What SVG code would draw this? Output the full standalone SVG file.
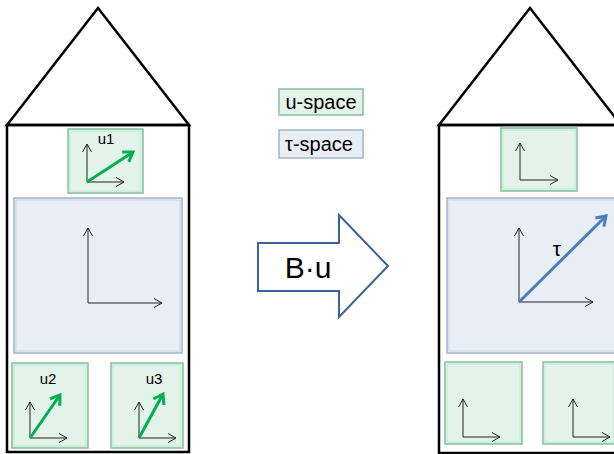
<svg xmlns="http://www.w3.org/2000/svg" width="614" height="454" viewBox="0 0 614 454">
<style>
.house{fill:none;stroke:#000;stroke-width:2.5;stroke-linejoin:miter}
.ubox{fill:#e4f3ea;stroke:#82c09b;stroke-width:1.5}
.ubev{fill:none;stroke:#b8ecd0;stroke-width:1}
.tbox{fill:#e9eef6;stroke:#a3b4ca;stroke-width:1.5}
.tbev{fill:none;stroke:#c9d6e6;stroke-width:1}
.axis{fill:none;stroke:#222;stroke-width:1;marker-end:url(#ax)}
.gv{fill:none;stroke:#00b050;stroke-width:3;marker-end:url(#gm)}
.bv{fill:none;stroke:#4a7ebb;stroke-width:3;marker-end:url(#bm)}
.lbl{font-family:"Liberation Sans",Arial,sans-serif;fill:#000}
</style>
<defs>
<marker id="ax" markerUnits="userSpaceOnUse" markerWidth="12" markerHeight="12" refX="10" refY="6" orient="auto" overflow="visible">
<path d="M2,1.5 L10,6 L2,10.5" fill="none" stroke="#222" stroke-width="1"/>
</marker>
<marker id="gm" markerUnits="userSpaceOnUse" markerWidth="14" markerHeight="14" refX="11" refY="7" orient="auto" overflow="visible">
<path d="M2,1 L11,7 L2,13" fill="none" stroke="#00b050" stroke-width="3"/>
</marker>
<marker id="bm" markerUnits="userSpaceOnUse" markerWidth="14" markerHeight="14" refX="11" refY="7" orient="auto" overflow="visible">
<path d="M2,1 L11,7 L2,13" fill="none" stroke="#4a7ebb" stroke-width="3"/>
</marker>
</defs>

<g id="left-house">
<polygon class="house" points="7,125 98,8 189,125"/>
<rect class="house" x="7" y="125" width="182" height="327"/>
</g>
<g id="right-house">
<polygon class="house" points="439,125 530,8 621,125"/>
<rect class="house" x="439" y="125" width="182" height="328"/>
</g>

<g id="left-u1">
<rect class="ubox" x="68" y="129" width="75" height="64"/>
<rect class="ubev" x="70" y="131" width="71" height="60"/>
<line class="axis" x1="87" y1="182" x2="87" y2="144"/>
<line class="axis" x1="87" y1="182" x2="124" y2="182"/>
<line class="gv" x1="87" y1="182" x2="133" y2="152"/>
<text class="lbl" x="106" y="144" font-size="15" text-anchor="middle">u1</text>
</g>
<g id="left-tau">
<rect class="tbox" x="14" y="198" width="168" height="155"/>
<rect class="tbev" x="16" y="200" width="164" height="151"/>
<line class="axis" x1="88" y1="303" x2="88" y2="228"/>
<line class="axis" x1="88" y1="303" x2="162" y2="303"/>
</g>
<g id="left-u2">
<rect class="ubox" x="12" y="363" width="76" height="85"/>
<rect class="ubev" x="14" y="365" width="72" height="81"/>
<line class="axis" x1="30" y1="438" x2="30" y2="402"/>
<line class="axis" x1="30" y1="438" x2="67" y2="438"/>
<line class="gv" x1="30" y1="438" x2="60" y2="395"/>
<text class="lbl" x="48" y="384" font-size="15" text-anchor="middle">u2</text>
</g>
<g id="left-u3">
<rect class="ubox" x="111" y="363" width="72" height="85"/>
<rect class="ubev" x="113" y="365" width="68" height="81"/>
<line class="axis" x1="139" y1="438" x2="139" y2="402"/>
<line class="axis" x1="139" y1="438" x2="176" y2="438"/>
<line class="gv" x1="139" y1="438" x2="163" y2="394"/>
<text class="lbl" x="154" y="384" font-size="15" text-anchor="middle">u3</text>
</g>

<g id="right-u1">
<rect class="ubox" x="501" y="128" width="76" height="63"/>
<rect class="ubev" x="503" y="130" width="72" height="59"/>
<line class="axis" x1="520" y1="180" x2="520" y2="143"/>
<line class="axis" x1="520" y1="180" x2="558" y2="180"/>
</g>
<g id="right-tau">
<rect class="tbox" x="447" y="198" width="170" height="155"/>
<rect class="tbev" x="449" y="200" width="166" height="151"/>
<line class="axis" x1="519" y1="302" x2="519" y2="228"/>
<line class="axis" x1="519" y1="302" x2="593" y2="302"/>
<line class="bv" x1="519" y1="302" x2="606" y2="216"/>
<text class="lbl" x="557" y="256" font-size="21" text-anchor="middle">τ</text>
</g>
<g id="right-u2">
<rect class="ubox" x="445" y="362" width="77" height="82"/>
<rect class="ubev" x="447" y="364" width="73" height="78"/>
<line class="axis" x1="463" y1="437" x2="463" y2="399"/>
<line class="axis" x1="463" y1="437" x2="500" y2="437"/>
</g>
<g id="right-u3">
<rect class="ubox" x="543" y="362" width="73" height="82"/>
<rect class="ubev" x="545" y="364" width="69" height="78"/>
<line class="axis" x1="573" y1="437" x2="573" y2="399"/>
<line class="axis" x1="573" y1="437" x2="610" y2="437"/>
</g>

<g id="legend-u">
<rect class="ubox" x="279" y="89" width="84" height="26"/>
<text class="lbl" x="321" y="109" font-size="20" text-anchor="middle">u-space</text>
</g>
<g id="legend-tau">
<rect class="tbox" x="279" y="130" width="84" height="28"/>
<text class="lbl" x="319" y="151" font-size="20" text-anchor="middle">τ-space</text>
</g>

<g id="connectors">
<g id="map-arrow">
<polygon points="258,243 339,243 339,215 388,266 339,317 339,291 258,291" fill="#fff" stroke="#3b6396" stroke-width="2"/>
<text class="lbl" x="308" y="278" font-size="30" text-anchor="middle">B·u</text>
</g>
</g>
</svg>
